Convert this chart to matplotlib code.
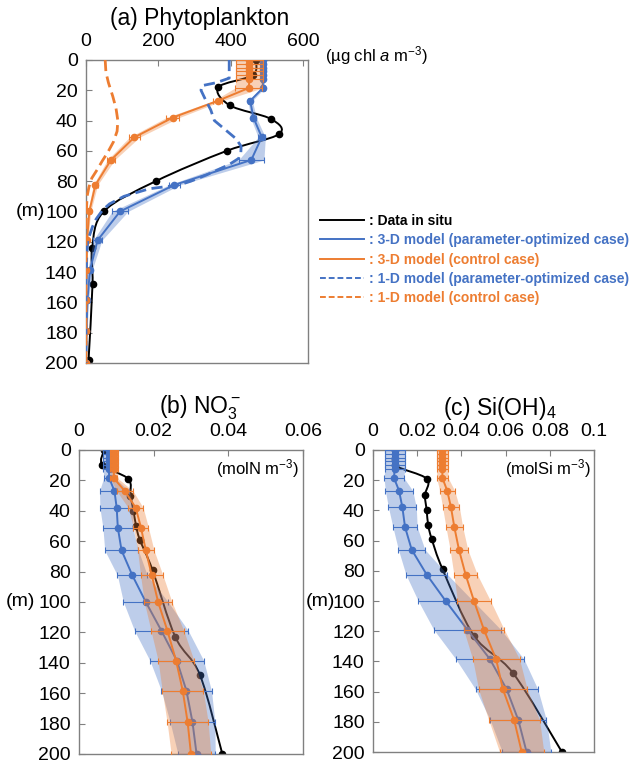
import numpy as np
import matplotlib
matplotlib.use('Agg')
import matplotlib.pyplot as plt
from matplotlib.path import Path
from matplotlib.patches import PathPatch
from matplotlib.lines import Line2D

plt.rcParams['font.family'] = ['Liberation Sans', 'DejaVu Sans']
plt.rcParams['mathtext.fontset'] = 'custom'
plt.rcParams['mathtext.rm'] = 'Liberation Sans'
plt.rcParams['mathtext.it'] = 'Liberation Sans:italic'

BLUE = '#4472C4'
ORANGE = '#ED7D31'
FRAME = '#808080'

# model layer depths (m)
layer_depth = [0, 2.5, 5, 7.5, 10, 12.5, 18.5, 27, 38, 51, 66, 82.5, 100, 119, 138.5, 158.5, 179, 200]

# (a) phytoplankton, ug chl a m-3
chl_obs_depth = [0, 10, 18, 30, 39, 49, 60, 80, 100, 124, 148, 198]
chl_obs = [470, 461, 366, 398, 512, 533, 389, 193, 49, 17, 18, 7]
chl_3d_opt = [489, 489, 489, 489, 489, 489, 489, 454, 463, 486, 457, 244, 94, 32, 11, 4, 1, 0]
chl_3d_opt_sd = [4, 4, 4, 4, 4, 4, 5, 6, 8, 10, 35, 15, 22, 12, 6, 3, 2, 1]
chl_3d_ctl = [452, 452, 452, 452, 452, 452, 450, 364, 240, 134, 69, 26, 9, 3, 1, 0, 0, 0]
chl_3d_ctl_sd = [38, 38, 38, 38, 38, 38, 38, 12, 18, 14, 10, 6, 4, 2, 1, 0, 0, 0]
chl_1d_opt_depth = [0, 12, 15, 17, 20, 26, 33, 40, 46, 52, 57, 62, 65, 69, 73, 76, 80, 82.5, 85, 90, 95, 99, 105, 110, 119, 130, 150, 200]
chl_1d_opt = [396, 396, 360, 320, 318, 330, 345, 355, 385, 415, 429, 428, 422, 396, 360, 332, 290, 258, 175, 105, 65, 46, 28, 18, 5, 2, 0, 0]
chl_1d_ctl_depth = [0, 8, 15, 24, 32, 40, 47, 54, 61, 67, 72, 78, 84, 90, 100, 120, 200]
chl_1d_ctl = [53, 55, 62, 74, 83, 88, 86, 76, 60, 44, 32, 16, 8, 3, 1, 0, 0]

# (b), (c) nutrients, mol m-3
nut_obs_depth = [0, 10, 19, 30, 40, 50, 59, 79, 123, 148, 200]
no3_obs = [0.0067, 0.0063, 0.0132, 0.0138, 0.0146, 0.0153, 0.0163, 0.0197, 0.0258, 0.0324, 0.0384]
no3_3d_opt = [0.008, 0.008, 0.008, 0.008, 0.008, 0.008, 0.0081, 0.0095, 0.0101, 0.0104, 0.0114,
              0.0143, 0.0179, 0.0221, 0.0262, 0.0288, 0.0304, 0.0315]
no3_3d_opt_sd = [0.0015, 0.0015, 0.0015, 0.0015, 0.0015, 0.0015, 0.0015, 0.004, 0.0045, 0.004, 0.0045,
                 0.004, 0.006, 0.0072, 0.0072, 0.0067, 0.006, 0.005]
no3_3d_ctl = [0.0094, 0.0094, 0.0094, 0.0094, 0.0094, 0.0094, 0.0093, 0.0123, 0.0152, 0.0166, 0.0179,
              0.0195, 0.0212, 0.0237, 0.026, 0.0278, 0.0291, 0.03]
no3_3d_ctl_sd = [0.001, 0.001, 0.001, 0.001, 0.001, 0.001, 0.001, 0.0022, 0.002, 0.002, 0.0022,
                 0.003, 0.0037, 0.0044, 0.0048, 0.0055, 0.0055, 0.0053]

si_obs = [0.0099, 0.01, 0.0243, 0.0235, 0.0243, 0.025, 0.0266, 0.0315, 0.0457, 0.0635, 0.0855]
si_3d_opt = [0.0099, 0.0099, 0.0099, 0.0099, 0.0099, 0.0098, 0.0095, 0.0118, 0.0133, 0.0145, 0.0175,
             0.0243, 0.0329, 0.0427, 0.0529, 0.0605, 0.0658, 0.0695]
si_3d_opt_sd = [0.0045, 0.0045, 0.0045, 0.0045, 0.0045, 0.0045, 0.0045, 0.0062, 0.0063, 0.0055, 0.006,
                0.0094, 0.0124, 0.0152, 0.0154, 0.0141, 0.0127, 0.011]
si_3d_ctl = [0.0314, 0.0314, 0.0314, 0.0314, 0.0314, 0.0314, 0.0314, 0.0336, 0.0353, 0.0368, 0.0389,
             0.0419, 0.0457, 0.0502, 0.0557, 0.0588, 0.0639, 0.0673]
si_3d_ctl_sd = [0.0026, 0.0026, 0.0026, 0.0026, 0.0026, 0.0026, 0.0026, 0.0034, 0.0038, 0.0038, 0.004,
                0.0053, 0.0075, 0.0092, 0.0106, 0.011, 0.0115, 0.01]


def smooth_curve(ax, x, y, **kw):
    # Excel-style smoothed line through the points (Catmull-Rom as Bezier)
    p = np.column_stack([x, y]).astype(float)
    n = len(p)
    verts = [p[0]]
    codes = [Path.MOVETO]
    for i in range(n - 1):
        p0 = p[i - 1] if i > 0 else p[i]
        p3 = p[i + 2] if i + 2 < n else p[i + 1]
        verts += [p[i] + (p[i + 1] - p0) / 6, p[i + 1] - (p3 - p[i]) / 6, p[i + 1]]
        codes += [Path.CURVE4] * 3
    ax.add_patch(PathPatch(Path(verts, codes), fill=False, **kw))


def model_profile(ax, x, sd, color, z=3):
    x = np.array(x)
    sd = np.array(sd)
    ax.fill_betweenx(layer_depth, x - sd, x + sd, color=color, alpha=0.35, lw=0, zorder=z)
    ax.errorbar(x, layer_depth, xerr=sd, color=color, marker='o', ms=4.5, lw=1.4,
                elinewidth=0.8, capsize=2, capthick=0.8, zorder=z + 0.5)


def obs_profile(ax, x, depth):
    smooth_curve(ax, x, depth, edgecolor='black', lw=1.4, zorder=2)
    ax.plot(x, depth, 'o', color='black', ms=4.5, zorder=2)


def style_axes(ax, xmax, xticks, xticklabels):
    ax.set_xlim(0, xmax)
    ax.set_ylim(200, 0)
    ax.set_yticks(range(0, 201, 20))
    ax.set_xticks(xticks)
    ax.set_xticklabels(xticklabels)
    ax.xaxis.tick_top()
    ax.tick_params(direction='in', length=4, color=FRAME, labelsize=14, pad=6)
    ax.tick_params(axis='x', pad=7)
    for s in ax.spines.values():
        s.set_color(FRAME)
        s.set_linewidth(1)


fig = plt.figure(figsize=(6.4, 7.64), dpi=100)

# (a) Phytoplankton
ax1 = fig.add_axes([0.1344, 0.5249, 0.3469, 0.3966])
obs_profile(ax1, chl_obs, chl_obs_depth)
model_profile(ax1, chl_3d_opt, chl_3d_opt_sd, BLUE)
model_profile(ax1, chl_3d_ctl, chl_3d_ctl_sd, ORANGE, z=4)
ax1.plot(chl_1d_opt, chl_1d_opt_depth, '--', color=BLUE, lw=2, dashes=(4, 2), zorder=6)
ax1.plot(chl_1d_ctl, chl_1d_ctl_depth, '--', color=ORANGE, lw=2, dashes=(4, 2), zorder=6)
style_axes(ax1, 614, [0, 200, 400, 600], ['0', '200', '400', '600'])

# (b) NO3
ax2 = fig.add_axes([0.1234, 0.0131, 0.35, 0.3979])
obs_profile(ax2, no3_obs, nut_obs_depth)
model_profile(ax2, no3_3d_opt, no3_3d_opt_sd, BLUE)
model_profile(ax2, no3_3d_ctl, no3_3d_ctl_sd, ORANGE, z=4)
style_axes(ax2, 0.06, [0, 0.02, 0.04, 0.06], ['0', '0.02', '0.04', '0.06'])

# (c) Si(OH)4
ax3 = fig.add_axes([0.5828, 0.0157, 0.3453, 0.3953])
obs_profile(ax3, si_obs, nut_obs_depth)
model_profile(ax3, si_3d_opt, si_3d_opt_sd, BLUE)
model_profile(ax3, si_3d_ctl, si_3d_ctl_sd, ORANGE, z=4)
style_axes(ax3, 0.1, [0, 0.02, 0.04, 0.06, 0.08, 0.1], ['0', '0.02', '0.04', '0.06', '0.08', '0.1'])

# titles and unit labels
fig.text(200 / 640, 1 - 18 / 764, '(a) Phytoplankton', ha='center', va='center', fontsize=16.5)
fig.text(200 / 640, 1 - 408 / 764, r'(b) NO$_3^-$', ha='center', va='center', fontsize=16.5)
fig.text(500 / 640, 1 - 408 / 764, r'(c) Si(OH)$_4$', ha='center', va='center', fontsize=16.5)
fig.text(325 / 640, 1 - 56 / 764, '(µg chl $a$ m$^{-3}$)', ha='left', va='center', fontsize=12)
ax2.text(0.985, 0.975, r'(molN m$^{-3}$)', transform=ax2.transAxes, ha='right', va='top', fontsize=12)
ax3.text(0.985, 0.975, r'(molSi m$^{-3}$)', transform=ax3.transAxes, ha='right', va='top', fontsize=12)
fig.text(30 / 640, 1 - 212 / 764, '(m)', ha='center', va='center', fontsize=14)
fig.text(20 / 640, 1 - 602 / 764, '(m)', ha='center', va='center', fontsize=14)
fig.text(320 / 640, 1 - 602 / 764, '(m)', ha='center', va='center', fontsize=14)

# legend
handles = [
    Line2D([], [], color='black', lw=1.4),
    Line2D([], [], color=BLUE, lw=1.4),
    Line2D([], [], color=ORANGE, lw=1.4),
    Line2D([], [], color=BLUE, lw=1.4, ls='--', dashes=(3, 1.5)),
    Line2D([], [], color=ORANGE, lw=1.4, ls='--', dashes=(3, 1.5)),
]
labels = [': Data in situ', ': 3-D model (parameter-optimized case)', ': 3-D model (control case)',
          ': 1-D model (parameter-optimized case)', ': 1-D model (control case)']
fig.legend(handles, labels, loc='upper left', bbox_to_anchor=(320 / 640, 1 - 214 / 764),
           frameon=False, labelcolor='linecolor', prop={'weight': 'bold', 'size': 10},
           handlelength=3.2, handletextpad=0.3, labelspacing=0.38, borderpad=0, borderaxespad=0)

fig.savefig('out.png', dpi=100)
